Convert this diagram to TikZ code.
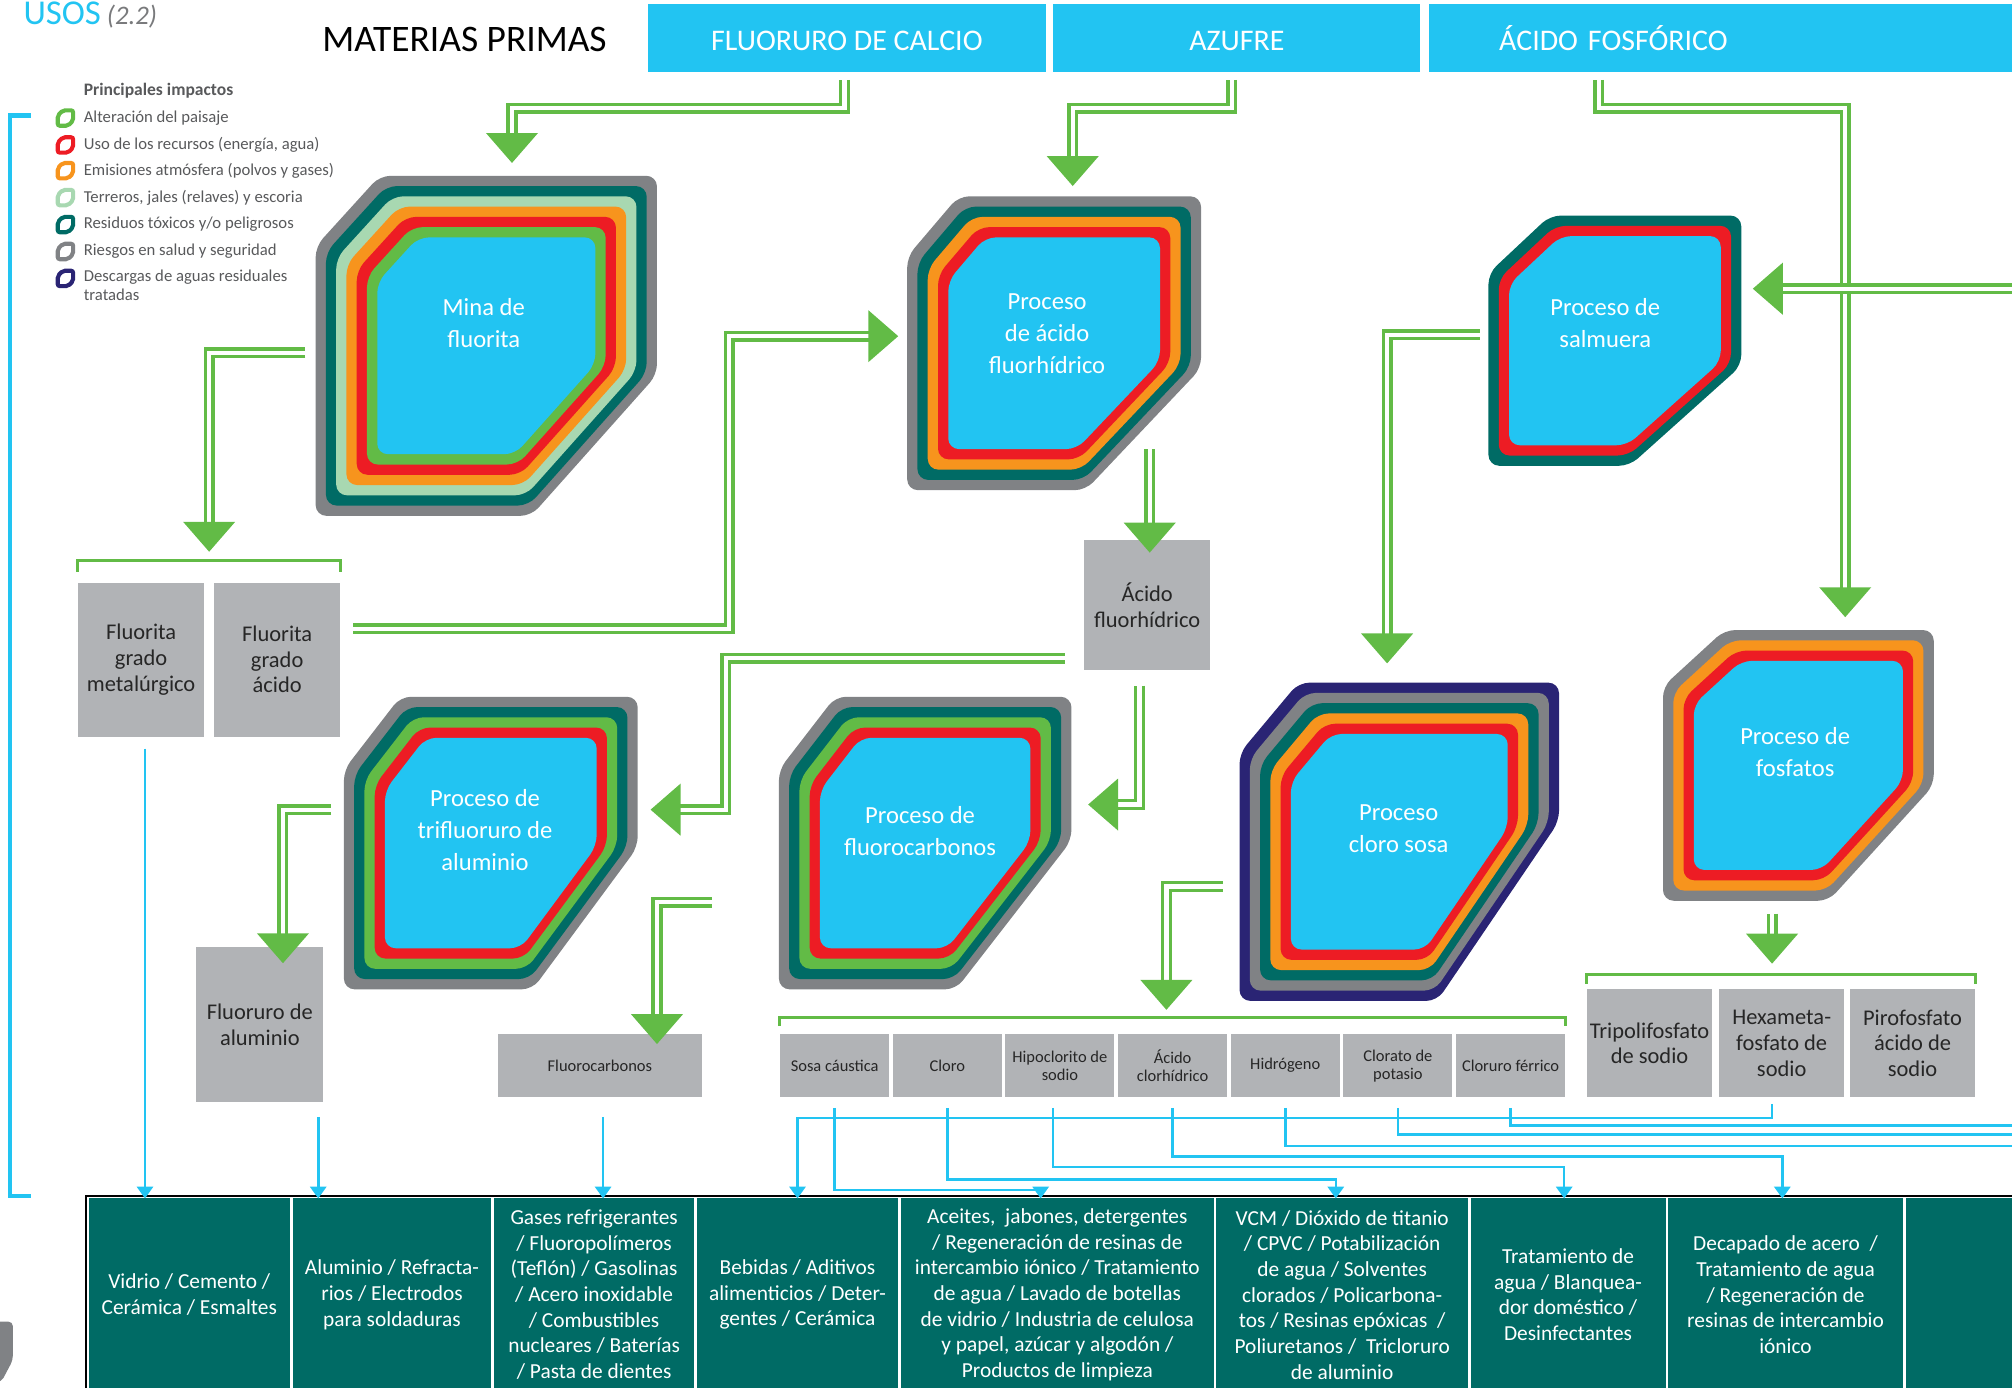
\documentclass[tikz,border=0pt]{standalone}
\usepackage{fontspec}
\setmainfont{Carlito}
\usetikzlibrary{arrows.meta}

\definecolor{procblue}{RGB}{34,196,242}
\definecolor{impgray}{RGB}{128,130,133}
\definecolor{impteal}{RGB}{0,107,101}
\definecolor{implgreen}{RGB}{168,216,177}
\definecolor{imporange}{RGB}{247,148,29}
\definecolor{impred}{RGB}{237,28,36}
\definecolor{impgreen}{RGB}{98,187,70}
\definecolor{impnavy}{RGB}{42,36,116}
\definecolor{boxgray}{RGB}{177,179,182}
\definecolor{textgray}{RGB}{88,89,91}

\newcommand{\px}{*0.6pt}

% process with nested impact rings: (outer box)(chamfers TL x,y / BR x,y){colours, outside in}
\def\impactshape(#1,#2,#3,#4)(#5,#6,#7,#8)#9{%
  \foreach \layercol [count=\k from 0] in {#9,procblue}{%
    \pgfmathsetmacro\ins{8*\k}%
    \pgfmathsetmacro\sx{(#3-#1-2*\ins)/(#3-#1)}%
    \pgfmathsetmacro\sy{(#4-#2-2*\ins)/(#4-#2)}%
    \fill[\layercol, rounded corners=5pt]
      ({#1+\ins+#5*\sx},{#2+\ins}) -- ({#3-\ins},{#2+\ins}) -- ({#3-\ins},{#4-\ins-#8*\sy})
      -- ({#3-\ins-#7*\sx},{#4-\ins}) -- ({#1+\ins},{#4-\ins}) -- ({#1+\ins},{#2+\ins+#6*\sy}) -- cycle;
  }%
}

\tikzset{
  matbar/.style={fill=procblue, text=white, minimum height=53\px, inner sep=0pt, text height=12pt, font=\fontsize{14}{16}\selectfont},
  procname/.style={text=white, align=center, inner sep=0pt, font=\fontsize{11.5}{15}\selectfont},
  prodbox/.style={fill=boxgray, text=black!85, align=center, inner sep=0pt, font=\fontsize{10.5}{12}\selectfont},
  smallbox/.style={prodbox, minimum width=85\px, minimum height=49\px, font=\fontsize{7.7}{8.4}\selectfont},
  usecell/.style={fill=impteal, draw=white, line width=2\px, text=white, align=center, inner sep=0pt, minimum height=152\px, font=\fontsize{10}{12}\selectfont},
  legtext/.style={anchor=west, text=textgray, inner sep=0pt, font=\fontsize{7.8}{9}\selectfont},
  legicon/.style={draw=#1, line width=3.2\px, rounded corners=1pt},
  gflow/.style={draw=impgreen, double=white, line width=2.6\px, double distance=3.4\px, line join=miter, -{Triangle[width=24pt,length=14pt]}},
  gbracket/.style={draw=impgreen, line width=2.2\px},
  useline/.style={draw=procblue, line width=2\px, -{Triangle[width=7.5pt,length=5.5pt]}},
}

\begin{document}
\begin{tikzpicture}[x=0.6pt,y=-0.6pt]
\useasboundingbox (0,0) rectangle (1568,1081);
\clip (0,0) rectangle (1568,1081);

% title and legend
\node[anchor=base west, text=procblue, inner sep=0pt, font=\fontsize{16.3}{18}\selectfont] (usos) at (18,19) {USOS};
\node[anchor=base west, text=textgray!80, inner sep=0pt, font=\fontsize{12.5}{14}\selectfont\itshape] (usosnum) at ([xshift=4\px]usos.base east) {(2.2)};
\node[inner sep=0pt, font=\fontsize{17.5}{19}\selectfont] (materias) at (362,31) {MATERIAS PRIMAS};

\node[legtext, font=\fontsize{8.2}{9}\selectfont\bfseries] (leghead) at (65,71) {Principales impactos};
\draw[legicon=impgreen, shift={(51,92)}] (-6,-2) -- (-2,-6) -- (6,-6) -- (6,2) -- (2,6) -- (-6,6) -- cycle;
\draw[legicon=impred, shift={(51,113)}] (-6,-2) -- (-2,-6) -- (6,-6) -- (6,2) -- (2,6) -- (-6,6) -- cycle;
\draw[legicon=imporange, shift={(51,133)}] (-6,-2) -- (-2,-6) -- (6,-6) -- (6,2) -- (2,6) -- (-6,6) -- cycle;
\draw[legicon=implgreen, shift={(51,154)}] (-6,-2) -- (-2,-6) -- (6,-6) -- (6,2) -- (2,6) -- (-6,6) -- cycle;
\draw[legicon=impteal, shift={(51,175)}] (-6,-2) -- (-2,-6) -- (6,-6) -- (6,2) -- (2,6) -- (-6,6) -- cycle;
\draw[legicon=impgray, shift={(51,196)}] (-6,-2) -- (-2,-6) -- (6,-6) -- (6,2) -- (2,6) -- (-6,6) -- cycle;
\draw[legicon=impnavy, shift={(51,217)}] (-6,-2) -- (-2,-6) -- (6,-6) -- (6,2) -- (2,6) -- (-6,6) -- cycle;
\node[legtext] (leg1) at (65,92) {Alteración del paisaje};
\node[legtext] (leg2) at (65,113) {Uso de los recursos (energía, agua)};
\node[legtext] (leg3) at (65,133) {Emisiones atmósfera (polvos y gases)};
\node[legtext] (leg4) at (65,154) {Terreros, jales (relaves) y escoria};
\node[legtext] (leg5) at (65,175) {Residuos tóxicos y/o peligrosos};
\node[legtext] (leg6) at (65,196) {Riesgos en salud y seguridad};
\node[legtext, anchor=north west, align=left] (leg7) at (65,210) {Descargas de aguas residuales\\tratadas};

\draw[procblue, line width=3.2\px] (24,90) -- (8,90) -- (8,932) -- (24,932);
\fill[impgray, rounded corners=2pt] (-6,1030) -- (10,1030) -- (10,1060) -- (1,1077) -- (-6,1077) -- cycle;

% raw materials
\node[matbar, minimum width=310\px] (calcio) at (660,29.5) {FLUORURO DE CALCIO};
\node[matbar, minimum width=286\px] (azufre) at (964,29.5) {AZUFRE};
\node[matbar, anchor=west, minimum width=467\px, text width=357\px, inner xsep=55\px, align=left] (fosforico) at (1113,29.5) {ÁCIDO FOSFÓRICO};

% processes
\impactshape(246,137,512,402)(50,55,98,110){impgray,impteal,implgreen,imporange,impred,impgreen}
\impactshape(707,153,936,382)(40,47,90,95){impgray,impteal,imporange,impred}
\impactshape(1160,168,1357,363)(48,45,87,78){impteal,impred}
\impactshape(1296,491,1507,702)(48,44,82,90){impgray,imporange,impred}
\impactshape(268,543,497,771)(44,57,82,111){impgray,impteal,impgreen,impred}
\impactshape(607,543,835,771)(44,57,90,116){impgray,impteal,impgreen,impred}
\impactshape(966,532,1215,780)(46,55,95,140){impnavy,impgray,impteal,imporange,impred}

\node[procname] (mina) at (377,252) {Mina de\\fluorita};
\node[procname] (hfproc) at (816,260) {Proceso\\de ácido\\fluorhídrico};
\node[procname] (salmuera) at (1251,252) {Proceso de\\salmuera};
\node[procname] (fosfatos) at (1399,586) {Proceso de\\fosfatos};
\node[procname] (trifluoruro) at (378,647) {Proceso de\\trifluoruro de\\aluminio};
\node[procname] (fcproc) at (717,648) {Proceso de\\fluorocarbonos};
\node[procname] (clorososa) at (1090,646) {Proceso\\cloro sosa};

% products
\node[prodbox, minimum width=98\px, minimum height=120\px] (fmet) at (110,514) {Fluorita\\grado\\metalúrgico};
\node[prodbox, minimum width=98\px, minimum height=120\px] (facid) at (216,514) {Fluorita\\grado\\ácido};
\node[prodbox, minimum width=98\px, minimum height=101\px] (hfbox) at (894,471.5) {Ácido\\fluorhídrico};
\node[prodbox, minimum width=99\px, minimum height=121\px] (alf) at (202.5,798.5) {Fluoruro de\\aluminio};
\node[smallbox, minimum width=159\px] (fcbox) at (467.5,830.5) {Fluorocarbonos};

\node[smallbox] (sosa) at (650.5,830.5) {Sosa cáustica};
\node[smallbox] (cloro) at (738.3,830.5) {Cloro};
\node[smallbox] (hipo) at (826,830.5) {Hipoclorito de\\sodio};
\node[smallbox] (hcl) at (913.8,830.5) {Ácido\\clorhídrico};
\node[smallbox] (hidro) at (1001.6,830.5) {Hidrógeno};
\node[smallbox] (clorato) at (1089.4,830.5) {Clorato de\\potasio};
\node[smallbox] (cloruro) at (1177.2,830.5) {Cloruro férrico};

\node[prodbox, minimum width=97\px, minimum height=84\px] (tripoli) at (1285.5,813) {Tripolifosfato\\de sodio};
\node[prodbox, minimum width=97\px, minimum height=84\px] (hexa) at (1388.5,813) {Hexameta-\\fosfato de\\sodio};
\node[prodbox, minimum width=97\px, minimum height=84\px] (piro) at (1490.5,813) {Pirofosfato\\ácido de\\sodio};

\draw[gbracket] ([yshift=8\px]fmet.north west) -- ++(0,-9) -| ([yshift=8\px]facid.north east);
\draw[gbracket] ([yshift=6\px]sosa.north west) -- ++(0,-7) -| ([yshift=6\px]cloruro.north east);
\draw[gbracket] ([yshift=4\px]tripoli.north west) -- ++(0,-7) -| ([yshift=4\px]piro.north east);

% uses
\node[usecell, minimum width=159\px] (u1) at (147.5,1009) {Vidrio / Cemento /\\Cerámica / Esmaltes};
\node[usecell, minimum width=157\px] (u2) at (305.5,1009) {Aluminio / Refracta-\\rios / Electrodos\\para soldaduras};
\node[usecell, minimum width=158\px] (u3) at (463,1009) {Gases refrigerantes\\/ Fluoropolímeros\\(Teflón) / Gasolinas\\/ Acero inoxidable\\/ Combustibles\\nucleares / Baterías\\/ Pasta de dientes};
\node[usecell, minimum width=159\px] (u4) at (621.5,1009) {Bebidas / Aditivos\\alimenticios / Deter-\\gentes / Cerámica};
\node[usecell, minimum width=246\px] (u5) at (824,1009) {Aceites,\ \ jabones, detergentes\\/ Regeneración de resinas de\\intercambio iónico / Tratamiento\\de agua / Lavado de botellas\\de vidrio / Industria de celulosa\\y papel, azúcar y algodón /\\Productos de limpieza};
\node[usecell, minimum width=198\px] (u6) at (1046,1009) {VCM / Dióxido de titanio\\/ CPVC / Potabilización\\de agua / Solventes\\clorados / Policarbona-\\tos / Resinas epóxicas\ \ /\\Poliuretanos /\ \ Tricloruro\\de aluminio};
\node[usecell, minimum width=154\px] (u7) at (1222,1009) {Tratamiento de\\agua / Blanquea-\\dor doméstico /\\Desinfectantes};
\node[usecell, minimum width=185\px] (u8) at (1391.5,1009) {Decapado de acero\ \ /\\Tratamiento de agua\\/ Regeneración de\\resinas de intercambio\\iónico};
\node[usecell, minimum width=96\px] (u9) at (1532,1009) {};
\draw[black, line width=1.5\px] (u1.south west) -- (u1.north west) -- (u9.north east);

% green flows
\coordinate (mina in) at (399,127);
\coordinate (mina out) at (238,275);
\coordinate (fluorita in) at (163,430);
\coordinate (hfproc in) at (836,145);
\coordinate (hfproc in2) at (700,262);
\coordinate (hfproc out) at (896,350);
\coordinate (salmuera feed) at (1580,225);
\coordinate (salmuera in) at (1366,225);
\coordinate (salmuera out) at (1153,261);
\coordinate (fosfatos in) at (1438,481);
\coordinate (fosfatos out) at (1381,712);
\coordinate (fosfatos prod) at (1381,751);
\coordinate (trif in) at (507,631);
\coordinate (trif out) at (258,631);
\coordinate (fcproc in) at (848,627);
\coordinate (fcproc out) at (555,703);
\coordinate (clorososa in) at (1081,517);
\coordinate (clorososa out) at (953,691);
\coordinate (cloro prod) at (909,787);

\draw[gflow] ([xshift=-2\px,yshift=-6\px]calcio.south) -- ++(0,22) -| (mina in);
\draw[gflow] ([xshift=-4\px,yshift=-6\px]azufre.south) -- ++(0,22) -| (hfproc in);
\draw[gflow] ([xshift=133\px,yshift=-6\px]fosforico.south west) -- ++(0,22) -| (fosfatos in);
\draw[gflow] (salmuera feed) -- (salmuera in);
\draw[gflow] (mina out) -| (fluorita in);
\draw[gflow] ([shift={(10,-24)}]facid.east) -- ++(293,0) |- (hfproc in2);
\draw[gflow] (hfproc out) -- ([xshift=2\px,yshift=-10\px]hfbox.north);
\draw[gflow] ([shift={(-15,41.5)}]hfbox.west) -- ++(-264,0) |- (trif in);
\draw[gflow] ([shift={(-6,12)}]hfbox.south) |- (fcproc in);
\draw[gflow] (trif out) -| ([xshift=18\px,yshift=-13\px]alf.north);
\draw[gflow] (fcproc out) -| ([xshift=44.5\px,yshift=-8\px]fcbox.north);
\draw[gflow] (salmuera out) -| (clorososa in);
\draw[gflow] (clorososa out) -| (cloro prod);
\draw[gflow] (fosfatos out) -- (fosfatos prod);

% blue links to uses
\coordinate (edge r1) at (1580,877);
\coordinate (edge r2) at (1580,884);
\coordinate (edge r3) at (1580,893);
\draw[useline] ([xshift=3\px,yshift=-9\px]fmet.south) coordinate (s1) -- ([yshift=-2\px]s1 |- u1.north);
\draw[useline] ([xshift=45.5\px,yshift=-11\px]alf.south) coordinate (s2) -- ([yshift=-2\px]s2 |- u2.north);
\draw[useline] ([xshift=2.5\px,yshift=-15\px]fcbox.south) coordinate (s3) -- ([yshift=-2\px]s3 |- u3.north);
\draw[useline] ([xshift=-7.5\px,yshift=-5\px]hexa.south) -- ++(0,11) -| ([yshift=-2\px]u4.north);
\draw[useline, -] ([yshift=-8\px]cloruro.south) |- (edge r1);
\draw[useline, -] ([yshift=-8\px]clorato.south) |- (edge r2);
\draw[useline, -] ([yshift=-8\px]hidro.south) |- (edge r3);
\draw[useline] ([yshift=-8\px]hcl.south) -- ++(0,38) -| ([xshift=-2.5\px,yshift=-2\px]u8.north);
\draw[useline] ([xshift=-5.5\px,yshift=-8\px]hipo.south) -- ++(0,46) -| ([xshift=-3\px,yshift=-2\px]u7.north);
\draw[useline] ([yshift=-8\px]cloro.south) -- ++(0,56) -| ([xshift=-5\px,yshift=-2\px]u6.north);
\draw[useline] ([yshift=-8\px]sosa.south) -- ++(0,64) -| ([xshift=-13\px,yshift=-2\px]u5.north);

\end{tikzpicture}
\end{document}
